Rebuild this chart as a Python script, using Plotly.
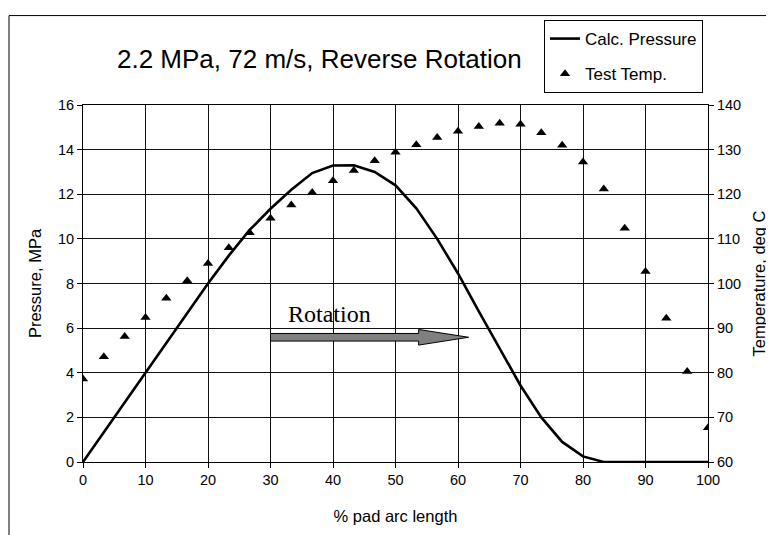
import plotly.graph_objects as go

# ---- data ----
arc_pct = [0, 3.33, 6.67, 10, 13.33, 16.67, 20, 23.33, 26.67, 30, 33.33, 36.67, 40, 43.33,
           46.67, 50, 53.33, 56.67, 60, 63.33, 66.67, 70, 73.33, 76.67, 80, 83.33, 86.67,
           90, 93.33, 96.67, 100]
calc_pressure = [0, 1.33, 2.67, 4.0, 5.33, 6.67, 8.0, 9.25, 10.4, 11.35, 12.2, 12.95, 13.29, 13.3,
                 13.0, 12.4, 11.37, 10.0, 8.45, 6.75, 5.1, 3.43, 2.0, 0.9, 0.25, 0, 0,
                 0, 0, 0, 0]
test_temp = [78.6, 83.6, 88.1, 92.4, 96.7, 100.6, 104.5, 108.0, 111.4, 114.6, 117.6, 120.4,
             123.0, 125.3, 127.5, 129.4, 131.1, 132.7, 134.1, 135.2, 135.9, 135.7, 133.8,
             131.0, 127.2, 121.2, 112.4, 102.7, 92.2, 80.3, 67.7]

x_ticks = [0, 10, 20, 30, 40, 50, 60, 70, 80, 90, 100]
p_ticks = [0, 2, 4, 6, 8, 10, 12, 14, 16]
t_ticks = [60, 70, 80, 90, 100, 110, 120, 130, 140]

FONT = "Liberation Sans, Arial, sans-serif"

fig = go.Figure()
fig.add_trace(go.Scatter(
    x=arc_pct, y=calc_pressure, mode="lines", name="Calc. Pressure",
    line=dict(color="black", width=2.6), legendgroup="a", yaxis="y"))
fig.add_trace(go.Scatter(
    x=arc_pct, y=test_temp, mode="markers", name="Test Temp.",
    marker=dict(symbol="triangle-up", size=9, color="black"), legendgroup="b", yaxis="y2"))

axis_common = dict(
    showline=True, linecolor="black", linewidth=1,
    ticks="outside", ticklen=5, tickcolor="black", tickwidth=1,
    tickfont=dict(family=FONT, size=14.5, color="black"),
    zeroline=False, automargin=False,
)

fig.update_layout(
    width=766, height=527,
    margin=dict(l=75, r=66, t=93, b=73),
    paper_bgcolor="white", plot_bgcolor="white",
    font=dict(family=FONT, color="black"),
    xaxis=dict(range=[0, 100], tickvals=x_ticks, mirror=True,
               showgrid=True, gridcolor="#111", gridwidth=1,
               title=dict(text="% pad arc length", font=dict(size=16.5), standoff=23),
               **axis_common),
    yaxis=dict(range=[0, 16], tickvals=p_ticks,
               showgrid=True, gridcolor="#111", gridwidth=1,
               title=dict(text="Pressure, MPa", font=dict(size=16.5), standoff=12),
               **axis_common),
    yaxis2=dict(range=[60, 140], tickvals=t_ticks, overlaying="y", side="right",
                showgrid=False,
                title=dict(text="Temperature, deg C", font=dict(size=16.5), standoff=13),
                **axis_common),
    legend=dict(x=0.7376, y=1.238, xanchor="left", yanchor="top",
                bordercolor="black", borderwidth=1, bgcolor="white",
                font=dict(family=FONT, size=17, color="black"),
                tracegroupgap=10),
    showlegend=True,
)

# title
fig.add_annotation(text="2.2 MPa, 72 m/s, Reverse Rotation", xref="paper", yref="paper",
                   x=0.3776, y=1.130, xanchor="center", yanchor="middle", showarrow=False,
                   font=dict(family=FONT, size=26, color="black"))

# rotation label and arrow
fig.add_annotation(text="Rotation", xref="x", yref="y", x=39.4, y=6.63,
                   xanchor="center", yanchor="middle", showarrow=False,
                   font=dict(family="Liberation Serif, Times New Roman, serif", size=24, color="black"))
fig.add_shape(type="path", xref="x", yref="y",
              path="M 30 5.42 L 53.7 5.42 L 53.7 5.24 L 61.7 5.59 L 53.7 5.94 L 53.7 5.76 L 30 5.76 Z",
              fillcolor="#808080", line=dict(color="black", width=1), layer="above")

# outer chart border (left and top visible)
fig.add_shape(type="rect", xref="paper", yref="paper",
              x0=-0.1184, x1=1.12, y0=-0.35, y1=1.2505,
              line=dict(color="black", width=1), fillcolor="rgba(0,0,0,0)", layer="below")

fig.write_html("out.html")
